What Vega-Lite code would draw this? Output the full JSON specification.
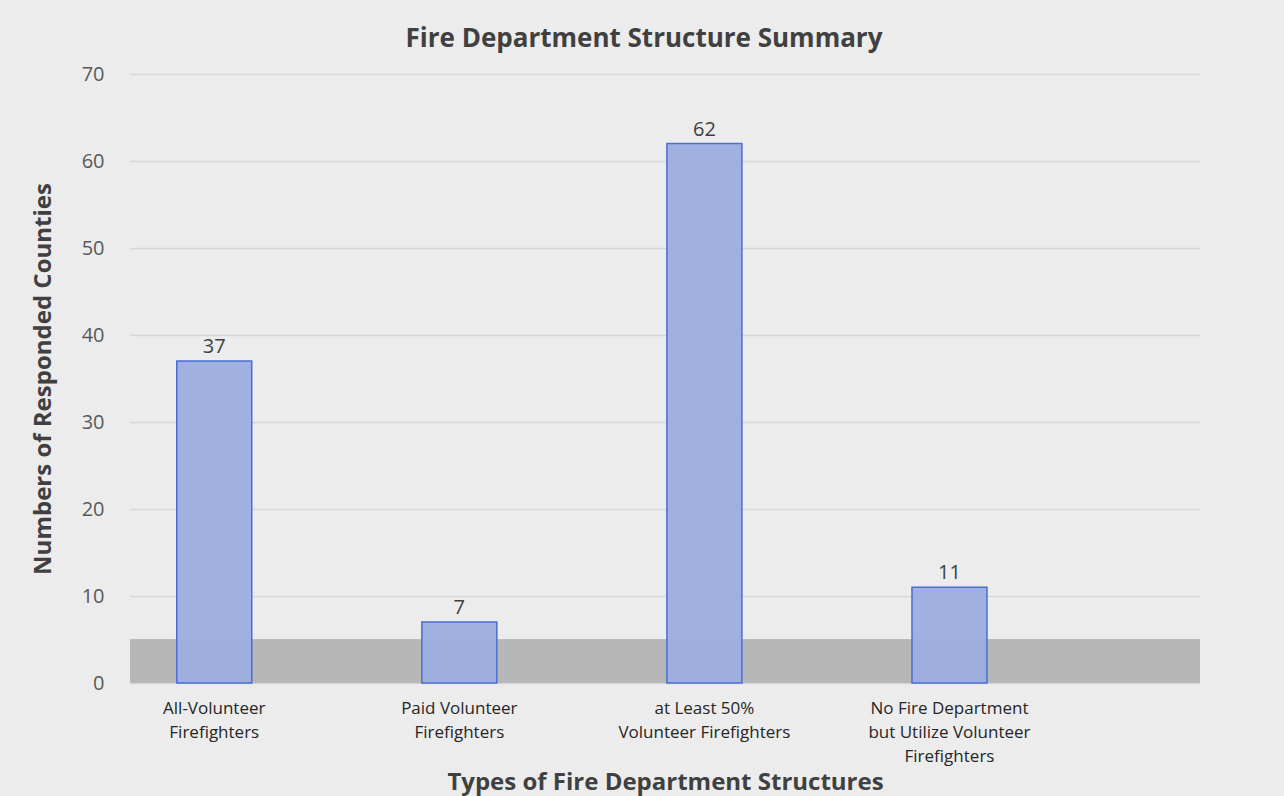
{
  "$schema": "https://vega.github.io/schema/vega-lite/v6.json",
  "autosize": "none",
  "width": 1070,
  "height": 609,
  "padding": {"left": 130, "top": 74, "right": 84, "bottom": 113},
  "background": "#ececec",
  "title": {
    "text": "Fire Department Structure Summary",
    "font": "Open Sans",
    "fontSize": 26,
    "fontWeight": "bold",
    "color": "#404040",
    "anchor": "middle",
    "dx": -21,
    "offset": 12
  },
  "data": {
    "values": [
      {"type": "All-Volunteer|Firefighters", "count": 37},
      {"type": "Paid Volunteer|Firefighters", "count": 7},
      {"type": "at Least 50%|Volunteer Firefighters", "count": 62},
      {"type": "No Fire Department|but Utilize Volunteer|Firefighters", "count": 11}
    ]
  },
  "config": {
    "view": {"stroke": null},
    "axis": {"labelFont": "Open Sans", "titleFont": "Open Sans"}
  },
  "encoding": {
    "x": {
      "field": "type",
      "type": "nominal",
      "sort": null,
      "scale": {"paddingInner": 0.694, "paddingOuter": 0.53, "align": 0.18},
      "axis": {
        "title": "Types of Fire Department Structures",
        "titleFontSize": 24,
        "titleFontWeight": "bold",
        "titleColor": "#404040",
        "titlePadding": 6,
        "labelExpr": "split(datum.label, '|')",
        "labelAngle": 0,
        "labelFontSize": 17,
        "labelColor": "#262626",
        "labelLineHeight": 24,
        "labelPadding": 17,
        "domain": false,
        "ticks": false,
        "grid": false
      }
    },
    "y": {
      "field": "count",
      "type": "quantitative",
      "scale": {"domain": [0, 70]},
      "axis": {
        "title": "Numbers of Responded Counties",
        "titleFontSize": 24,
        "titleFontWeight": "bold",
        "titleColor": "#404040",
        "titlePadding": 26,
        "values": [0, 10, 20, 30, 40, 50, 60, 70],
        "labelFontSize": 20,
        "labelColor": "#595959",
        "labelPadding": 26,
        "domain": false,
        "ticks": false,
        "gridColor": "#d6d6d6",
        "gridWidth": 1.5
      }
    }
  },
  "layer": [
    {
      "mark": {"type": "rect", "color": "#b7b7b7"},
      "encoding": {
        "x": null,
        "y": {"datum": 0, "type": "quantitative"},
        "y2": {"datum": 5}
      }
    },
    {
      "mark": {"type": "bar", "fill": "#9cade0", "fillOpacity": 0.95, "stroke": "#4a6fd4", "strokeWidth": 1.5}
    },
    {
      "mark": {"type": "text", "dy": -14, "fontSize": 20, "font": "Open Sans", "color": "#404040"},
      "encoding": {"text": {"field": "count", "type": "quantitative"}}
    }
  ]
}
